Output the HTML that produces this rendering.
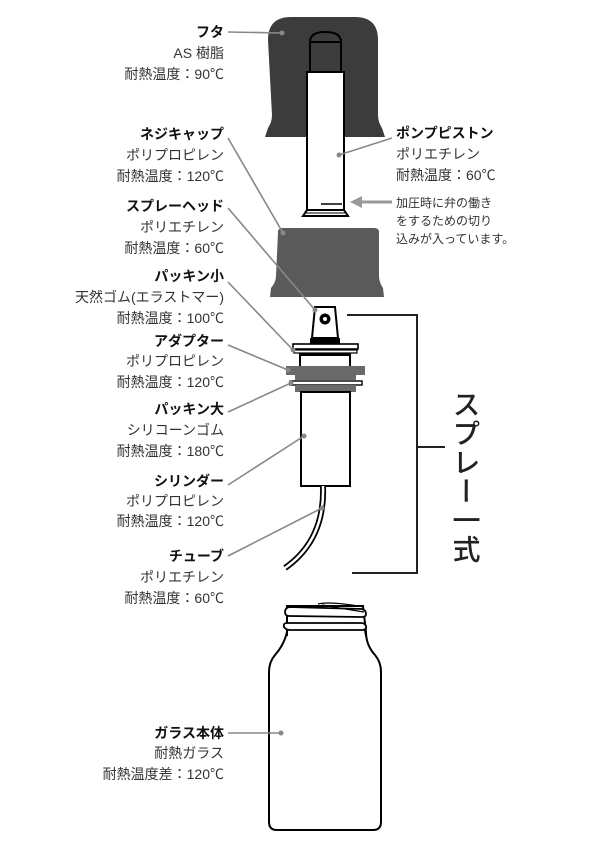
<!DOCTYPE html>
<html><head><meta charset="utf-8"><style>
html,body{margin:0;padding:0;background:#fff;}
svg{display:block;}
text{font-family:"Liberation Sans","Noto Sans CJK JP",sans-serif;font-size:14px;fill:#333;}
.t{font-weight:bold;fill:#111;}
.s{font-size:12px;text-anchor:start;}
.r text{text-anchor:end;}
.c{stroke:#888;stroke-width:1.6;fill:none;}
.d{fill:#888;}
</style></head><body>
<svg width="600" height="850" viewBox="0 0 600 850" xmlns="http://www.w3.org/2000/svg">
<!-- cap -->
<path d="M268 40 Q268 17 291 17 L355 17 Q378 17 378 40 L378 115 Q378 122 382 128 L385 137 L265 137 L268 128 Q272 122 272 115 Z" fill="#3c3c3c"/>
<!-- piston -->
<path d="M310 72 L310 42 Q310 32 325 32 Q341 32 341 42 L341 72 Z" fill="#3c3c3c" stroke="#000" stroke-width="2"/>
<line x1="310" y1="42" x2="341" y2="42" stroke="#000" stroke-width="2"/>
<rect x="307" y="72" width="37" height="138" fill="#fff" stroke="#000" stroke-width="2"/>
<line x1="321" y1="204" x2="342" y2="204" stroke="#000" stroke-width="1.5"/>
<path d="M307 210 L344 210 L348 216 L303 216 Z" fill="#fff" stroke="#000" stroke-width="2"/>
<line x1="306" y1="213" x2="345" y2="213" stroke="#000" stroke-width="1"/>
<!-- screw cap -->
<path d="M278 232 Q278 228 283 228 L374 228 Q379 228 379 232 L379 276 Q379 282 383 288 L384 297 L270 297 L271 288 Q276 282 276 276 Z" fill="#5a5a5a"/>
<!-- spray head -->
<path d="M315 307 L335 307 L338 338 L312 338 Z" fill="#fff" stroke="#000" stroke-width="2"/>
<circle cx="325" cy="319" r="5.5" fill="#000"/><circle cx="325" cy="319" r="2" fill="#fff"/>
<rect x="310" y="338" width="30" height="6" fill="#000"/>
<rect x="293" y="344" width="65" height="5" fill="#fff" stroke="#000" stroke-width="1.6"/>
<rect x="294" y="350" width="63" height="3" fill="#fff" stroke="#000" stroke-width="1.2"/>
<line x1="300" y1="353" x2="300" y2="366" stroke="#000" stroke-width="2"/>
<line x1="350" y1="353" x2="350" y2="366" stroke="#000" stroke-width="2"/>
<rect x="300" y="353" width="50" height="3" fill="#000"/>
<rect x="286" y="366" width="79" height="9" fill="#6a6a6a"/>
<rect x="295" y="375" width="61" height="5" fill="#6a6a6a"/>
<rect x="290" y="381" width="72" height="4" fill="#fff" stroke="#000" stroke-width="1.4"/>
<rect x="295" y="385" width="61" height="7" fill="#6a6a6a"/>
<rect x="301" y="392" width="49" height="94" fill="#fff" stroke="#000" stroke-width="2"/>
<!-- tube -->
<path d="M323 486 Q325 540 285 568" fill="none" stroke="#000" stroke-width="6"/>
<path d="M323 486 Q325 540 285 568" fill="none" stroke="#fff" stroke-width="2.5"/>
<!-- bracket -->
<path d="M347 315 L417 315 L417 573 L352 573" fill="none" stroke="#222" stroke-width="2"/>
<line x1="417" y1="447" x2="445" y2="447" stroke="#222" stroke-width="2"/>
<text x="465" y="390" style="writing-mode:vertical-rl;font-size:28px;font-weight:500;fill:#222;letter-spacing:1px">スプレー一式</text>
<!-- bottle -->
<path d="M287 632 L287 606 L363 606 L366 632 Q366 645 375 655 Q381 662 381 672 L381 822 Q381 830 373 830 L277 830 Q269 830 269 822 L269 672 Q269 662 275 655 Q284 645 287 632 Z" fill="#fff" stroke="#000" stroke-width="2"/>
<path d="M285 612 Q285 608 289 607 L362 609 Q366 610 366 614 Q366 617 362 617 L289 616 Q285 616 285 612 Z" fill="#fff" stroke="#000" stroke-width="1.8"/>
<path d="M287 623 Q283 623 284 627 Q286 630 290 630 L363 630 Q367 629 366 626 Q365 623 361 623 Z" fill="#fff" stroke="#000" stroke-width="1.8"/>
<path d="M318 604 Q330 601 364 607" fill="none" stroke="#000" stroke-width="1.3"/>
<path d="M322 605 Q345 609 364 612" fill="none" stroke="#000" stroke-width="1.2"/>
<line x1="287" y1="630" x2="287" y2="636" stroke="#000" stroke-width="2"/>
<line x1="365" y1="630" x2="366" y2="636" stroke="#000" stroke-width="2"/>
<!-- connectors -->
<line class="c" x1="228" y1="32" x2="282" y2="33"/><circle class="d" cx="282" cy="33" r="2.5"/>
<line class="c" x1="228" y1="138" x2="283" y2="233"/><circle class="d" cx="283" cy="233" r="2.5"/>
<line class="c" x1="228" y1="208" x2="315" y2="310"/><circle class="d" cx="315" cy="310" r="2.5"/>
<line class="c" x1="228" y1="282" x2="293" y2="350"/><circle class="d" cx="293" cy="350" r="2.5"/>
<line class="c" x1="228" y1="345" x2="288" y2="370"/><circle class="d" cx="288" cy="370" r="2.5"/>
<line class="c" x1="228" y1="412" x2="291" y2="383"/><circle class="d" cx="291" cy="383" r="2.5"/>
<line class="c" x1="228" y1="485" x2="304" y2="436"/><circle class="d" cx="304" cy="436" r="2.5"/>
<line class="c" x1="228" y1="556" x2="322" y2="508"/><circle class="d" cx="322" cy="508" r="2.5"/>
<line class="c" x1="228" y1="733" x2="281" y2="733"/><circle class="d" cx="281" cy="733" r="2.5"/>
<line class="c" x1="339" y1="155" x2="392" y2="138"/><circle class="d" cx="339" cy="155" r="2.5"/>
<line x1="392" y1="202" x2="360" y2="202" stroke="#999" stroke-width="3"/>
<path d="M350 202 L362 196 L362 208 Z" fill="#999"/>
<!-- labels -->
<g class="r">
<text class="t" x="224" y="37">フタ</text><text x="224" y="58">AS 樹脂</text><text x="224" y="79">耐熱温度：90℃</text>
<text class="t" x="224" y="139">ネジキャップ</text><text x="224" y="160">ポリプロピレン</text><text x="224" y="181">耐熱温度：120℃</text>
<text class="t" x="224" y="211">スプレーヘッド</text><text x="224" y="232">ポリエチレン</text><text x="224" y="253">耐熱温度：60℃</text>
<text class="t" x="224" y="281">パッキン小</text><text x="224" y="302">天然ゴム(エラストマー)</text><text x="224" y="323">耐熱温度：100℃</text>
<text class="t" x="224" y="346">アダプター</text><text x="224" y="366">ポリプロピレン</text><text x="224" y="387">耐熱温度：120℃</text>
<text class="t" x="224" y="414">パッキン大</text><text x="224" y="435">シリコーンゴム</text><text x="224" y="456">耐熱温度：180℃</text>
<text class="t" x="224" y="486">シリンダー</text><text x="224" y="506">ポリプロピレン</text><text x="224" y="526">耐熱温度：120℃</text>
<text class="t" x="224" y="561">チューブ</text><text x="224" y="582">ポリエチレン</text><text x="224" y="603">耐熱温度：60℃</text>
<text class="t" x="224" y="738">ガラス本体</text><text x="224" y="758">耐熱ガラス</text><text x="224" y="779">耐熱温度差：120℃</text>
</g>
<text class="t" x="396" y="138">ポンプピストン</text><text x="396" y="159">ポリエチレン</text><text x="396" y="180">耐熱温度：60℃</text>
<text class="s" x="396" y="207">加圧時に弁の働き</text><text class="s" x="396" y="225">をするための切り</text><text class="s" x="396" y="243">込みが入っています。</text>
</svg>
</body></html>
